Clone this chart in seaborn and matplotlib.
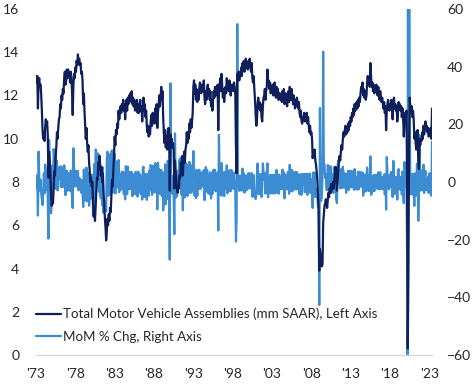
import pandas as pd
import matplotlib
matplotlib.use('Agg')
import matplotlib.pyplot as plt
import seaborn as sns

# Total motor vehicle assemblies (mm SAAR), monthly from Jan 1973
assemblies = [
    12.9, 12.6, 12.9, 11.4, 12.6, 12.8, 12.4, 12.5, 12.0, 11.3, 10.4, 10.0,  # 1973
    10.3, 9.9, 10.5, 10.9, 10.6, 10.8, 10.2, 8.2, 9.4, 9.0, 8.3, 7.4,        # 1974
    6.9, 7.3, 7.0, 7.8, 8.5, 8.3, 9.2, 9.6, 10.3, 10.0, 10.5, 10.9,         # 1975
    11.0, 11.6, 11.4, 12.0, 11.8, 12.3, 12.1, 12.8, 13.1, 12.5, 12.7, 13.2,  # 1976
    12.8, 13.2, 12.9, 13.0, 12.6, 13.1, 12.8, 12.2, 11.1, 12.4, 13.0, 12.8,  # 1977
    13.3, 13.1, 13.6, 13.4, 13.9, 13.5, 13.7, 13.4, 13.5, 13.0, 13.1, 12.7,  # 1978
    11.6, 12.1, 11.3, 10.6, 10.0, 10.5, 9.8, 9.4, 9.7, 8.9, 8.5, 8.0,       # 1979
    8.2, 7.8, 8.0, 7.1, 6.4, 6.8, 6.2, 6.9, 7.6, 8.2, 8.1, 8.9,             # 1980
    8.6, 9.2, 8.8, 8.3, 8.7, 8.0, 8.4, 7.5, 7.0, 6.4, 5.9, 5.3,             # 1981
    5.7, 6.3, 6.0, 6.5, 6.2, 6.8, 6.6, 7.3, 8.1, 7.8, 8.6, 9.2,             # 1982
    10.1, 9.7, 10.4, 10.2, 10.7, 10.5, 11.3, 10.9, 11.2, 11.5, 11.2, 11.6,  # 1983
    11.4, 11.8, 11.3, 11.6, 10.9, 11.5, 11.8, 11.3, 11.9, 11.6, 12.0, 11.7,  # 1984
    12.1, 11.8, 12.2, 11.6, 11.9, 11.5, 11.8, 11.3, 11.7, 11.5, 11.8, 11.2,  # 1985
    11.6, 11.2, 11.5, 11.8, 11.3, 11.5, 10.8, 11.3, 11.9, 11.3, 11.6, 11.0,  # 1986
    11.3, 10.6, 10.3, 10.6, 10.1, 10.5, 10.2, 10.8, 11.1, 10.6, 11.2, 10.8,  # 1987
    11.1, 10.7, 11.4, 11.0, 11.6, 10.5, 11.2, 11.5, 12.0, 11.5, 11.9, 12.4,  # 1988
    11.8, 12.2, 11.0, 10.3, 9.8, 10.4, 9.6, 10.1, 9.5, 10.2, 10.5, 10.4,    # 1989
    7.6, 10.2, 9.8, 10.0, 9.6, 9.8, 9.4, 7.7, 9.0, 8.5, 8.1, 7.7,           # 1990
    7.5, 7.8, 7.7, 8.3, 8.2, 8.9, 8.5, 9.2, 8.3, 9.0, 9.4, 8.9,             # 1991
    9.5, 9.7, 10.3, 9.8, 10.3, 10.0, 10.7, 10.3, 10.9, 10.5, 10.8, 11.2,    # 1992
    12.4, 12.7, 12.1, 12.5, 11.8, 12.3, 11.7, 12.1, 11.8, 12.3, 12.6, 12.3,  # 1993
    12.1, 12.5, 12.4, 12.2, 12.7, 11.9, 11.6, 12.2, 11.8, 12.3, 12.5, 12.0,  # 1994
    12.3, 11.8, 12.2, 11.5, 11.8, 11.3, 11.7, 12.2, 11.9, 12.4, 12.0, 12.3,  # 1995
    12.1, 12.5, 10.4, 12.1, 12.5, 12.8, 12.2, 13.0, 12.4, 11.9, 12.3, 11.7,  # 1996
    12.1, 12.4, 12.1, 12.8, 12.3, 12.6, 12.2, 12.7, 12.4, 12.0, 12.5, 12.3,  # 1997
    12.5, 12.2, 12.6, 12.4, 12.1, 9.6, 8.4, 13.0, 12.8, 13.1, 12.7, 12.9,    # 1998
    13.0, 13.3, 12.9, 13.5, 13.2, 13.6, 13.1, 13.4, 13.7, 13.3, 13.5, 13.2,  # 1999
    13.6, 13.3, 13.7, 13.4, 13.1, 13.5, 12.8, 12.6, 12.9, 12.3, 11.8, 11.1,  # 2000
    10.6, 10.9, 11.6, 11.9, 11.4, 11.7, 11.3, 11.6, 11.0, 10.8, 11.5, 11.9,  # 2001
    12.0, 12.3, 11.8, 12.2, 12.4, 13.2, 12.5, 12.7, 12.3, 12.6, 12.1, 12.4,  # 2002
    12.2, 12.5, 12.0, 12.3, 12.6, 12.1, 11.9, 12.4, 12.0, 12.3, 11.8, 12.1,  # 2003
    12.1, 11.8, 12.0, 11.7, 12.2, 11.9, 12.3, 11.6, 11.9, 12.1, 11.8, 11.5,  # 2004
    11.9, 12.2, 11.7, 12.4, 12.0, 11.8, 12.3, 11.9, 11.6, 12.0, 11.7, 11.4,  # 2005
    11.8, 11.5, 11.9, 11.6, 11.4, 11.7, 11.2, 11.0, 11.3, 10.8, 10.7, 11.0,  # 2006
    10.9, 11.2, 10.8, 11.1, 10.9, 11.2, 10.7, 11.0, 10.6, 10.3, 10.6, 10.2,  # 2007
    10.3, 10.0, 9.1, 9.4, 9.2, 9.5, 9.0, 8.8, 8.5, 8.1, 7.4, 6.8,           # 2008
    3.9, 4.9, 4.6, 4.3, 4.1, 4.2, 6.1, 6.5, 6.9, 7.0, 7.2, 7.0,             # 2009
    6.8, 7.2, 7.5, 7.3, 7.7, 7.5, 7.9, 7.6, 7.8, 8.0, 7.7, 8.1,             # 2010
    8.4, 8.7, 8.2, 7.6, 8.0, 8.6, 8.9, 9.2, 9.0, 9.4, 9.7, 9.5,             # 2011
    10.0, 10.3, 10.1, 10.4, 10.6, 10.2, 10.5, 10.3, 10.7, 10.4, 10.8, 10.6,  # 2012
    11.0, 10.8, 11.2, 11.0, 11.4, 11.1, 11.6, 11.3, 11.5, 11.7, 11.4, 11.8,  # 2013
    11.5, 11.9, 11.7, 12.1, 12.4, 12.2, 12.6, 12.0, 12.3, 11.9, 12.2, 11.8,  # 2014
    12.0, 12.6, 12.9, 12.5, 12.8, 12.4, 13.5, 12.9, 12.4, 12.6, 12.2, 12.5,  # 2015
    12.1, 12.4, 12.2, 12.5, 12.3, 12.0, 12.4, 12.1, 11.8, 12.2, 11.9, 11.7,  # 2016
    11.9, 11.6, 11.4, 11.7, 11.2, 11.5, 10.4, 11.3, 11.6, 11.8, 11.5, 11.3,  # 2017
    11.6, 11.4, 11.8, 11.5, 10.9, 11.7, 11.9, 11.4, 11.6, 11.3, 11.5, 10.8,  # 2018
    11.2, 11.7, 11.4, 11.6, 11.3, 11.5, 11.0, 11.4, 10.9, 10.1, 10.8, 11.2,  # 2019
    11.0, 11.3, 8.2, 0.3, 3.7, 9.6, 11.9, 11.4, 11.2, 11.5, 11.0, 11.3,     # 2020
    10.9, 10.0, 10.3, 9.8, 9.5, 10.1, 10.4, 9.0, 8.6, 10.0, 9.7, 10.0,      # 2021
    9.9, 10.3, 10.0, 10.6, 10.2, 10.4, 10.8, 10.5, 10.6, 10.3, 10.5, 10.1,  # 2022
    10.4, 10.2, 10.5, 10.0, 11.4,                                          # 2023
]

tick_years = [1973, 1978, 1983, 1988, 1993, 1998, 2003, 2008, 2013, 2018, 2023]
tick_labels = ["'73", "'78", "'83", "'88", "'93", "'98", "'03", "'08", "'13", "'18", "'23"]
left_ticks = [0, 2, 4, 6, 8, 10, 12, 14, 16]
right_ticks = [-60, -40, -20, 0, 20, 40, 60]

label_level = 'Total Motor Vehicle Assemblies (mm SAAR), Left Axis'
label_mom = 'MoM % Chg, Right Axis'

df = pd.DataFrame({
    'date': pd.date_range('1973-01-01', periods=len(assemblies), freq='MS'),
    'assemblies': assemblies,
})
df['mom'] = df['assemblies'].pct_change() * 100

sns.set_style('white')
plt.rcParams['font.family'] = ['Lato', 'DejaVu Sans']

dark = '#0e1f5b'
light = '#3b8cd2'
txt = '#262626'

fig = plt.figure(figsize=(4.74, 3.85), dpi=100)
ax = fig.add_axes([36 / 474, 1 - 355 / 385, (432 - 36) / 474, (355 - 9) / 385])
ax2 = ax.twinx()

sns.lineplot(data=df, x='date', y='mom', ax=ax2, color=light, linewidth=1.0, label=label_mom, legend=False)
sns.lineplot(data=df, x='date', y='assemblies', ax=ax, color=dark, linewidth=1.5, label=label_level, legend=False)

# left-axis line sits on top of the right-axis one
ax.set_zorder(ax2.get_zorder() + 1)
ax.patch.set_visible(False)

ax.set_xlim(df['date'].iloc[0], df['date'].iloc[-1])
ax.set_ylim(0, 16)
ax2.set_ylim(-60, 60)
ax.set_yticks(left_ticks)
ax2.set_yticks(right_ticks)
ax.set_xticks(pd.to_datetime([f'{y}-01-01' for y in tick_years]))
ax.set_xticklabels(tick_labels)
ax.set_xlabel('')
ax.set_ylabel('')
ax2.set_ylabel('')

for a in (ax, ax2):
    for s in a.spines.values():
        s.set_visible(False)
ax.spines['bottom'].set_visible(True)
ax.spines['bottom'].set_color('#d9d9d9')
ax.spines['bottom'].set_linewidth(1.0)

ax.tick_params(axis='x', direction='out', length=4, width=1, color='#d9d9d9',
               labelsize=10, labelcolor=txt, pad=5)
ax.tick_params(axis='y', length=0, labelsize=10, labelcolor=txt, pad=12)
ax2.tick_params(axis='y', length=0, labelsize=10, labelcolor=txt, pad=11)

h1, l1 = ax.get_legend_handles_labels()
h2, l2 = ax2.get_legend_handles_labels()
for h in h1 + h2:
    h.set_linewidth(1.6)
ax.legend(h1 + h2, l1 + l2, loc='lower left', bbox_to_anchor=(0.0, 0.035),
          frameon=False, fontsize=9.6, handlelength=1.85, handletextpad=0.15,
          labelspacing=0.8, borderpad=0, borderaxespad=0, labelcolor=txt)

fig.savefig('out.png', dpi=100)
